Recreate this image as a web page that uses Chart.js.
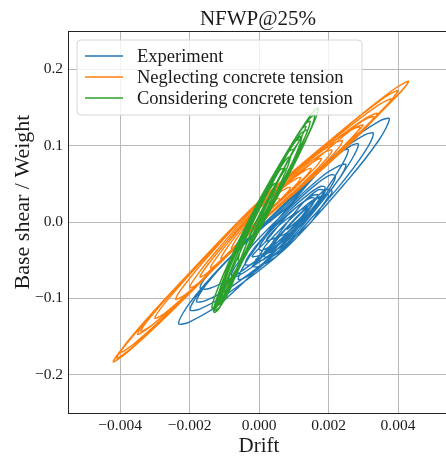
<!DOCTYPE html>
<html>
<head>
<meta charset="utf-8">
<script src="https://cdn.jsdelivr.net/npm/chart.js@4/dist/chart.umd.min.js"></script>
<style>
html,body{margin:0;padding:0;background:#fff;}
#c{display:block;}
</style>
</head>
<body>
<canvas id="c" width="446" height="459"></canvas>
<script>
const chartTitle = "NFWP@25%";
const xLabel = "Drift";
const yLabel = "Base shear / Weight";
const seriesNames = ["Experiment", "Neglecting concrete tension", "Considering concrete tension"];
const seriesColors = ["#1f77b4", "#ff7f0e", "#2ca02c"];
const xTicks = [-0.004, -0.002, 0.0, 0.002, 0.004];
const yTicks = [-0.2, -0.1, 0.0, 0.1, 0.2];

// Experiment
const expDrift = [
 0.0008,0.0012,0.0014,0.0012,0.0008,0.0004,0.0002,0.0004,
 0.0008,0.0014,0.0017,0.0015,0.0008,0.0002,-0.0002,0.0001,
 0.0008,0.00128,0.00152,0.0016,0.00152,0.00128,0.0008,0.00032,0.00008,0.0,0.00008,0.00032,
 0.0008,0.00146,0.00179,0.0019,0.00179,0.00146,0.0008,0.00008,-0.00028,-0.0004,-0.00028,0.00008,
 0.0008,0.00164,0.00206,0.0022,0.00206,0.00164,0.0008,-0.00016,-0.00064,-0.0008,-0.00064,-0.00016,
 0.0008,0.00186,0.00239,0.00257,0.00239,0.00186,0.0008,-0.0007,-0.00145,-0.0017,-0.00145,-0.0007,
 0.0008,0.0013,0.0016,0.0018,0.0016,0.0011,0.0006,0.0002,0.0,-0.0001,0.0001,0.0005,
 0.0008,0.00204,0.00265,0.00286,0.00265,0.00204,0.0008,-0.00076,-0.00154,-0.0018,-0.00154,-0.00076,
 0.0009,0.0015,0.0019,0.0021,0.0019,0.0014,0.0008,0.0003,0.0,-0.0002,0.0,0.0005,
 0.0008,0.00229,0.00304,0.00329,0.00304,0.00229,0.0008,-0.00087,-0.00171,-0.00199,-0.00171,-0.00087,
 0.0008,0.00257,0.00346,0.00375,0.00346,0.00257,0.0008,-0.00107,-0.00201,-0.00232,-0.00201,-0.00107,
 0.0008,0.00182,0.00233,0.0025,0.00233,0.00182,0.0008,-0.00004,-0.00046,-0.0006,-0.00046,-0.00004,
 0.001,0.0015,0.0018,0.002,0.0017,0.0012,0.0007,0.0003,0.0001,0.0003,0.0007,
 0.0008,0.0016,0.0019,0.0017,0.0012,0.0005,0.0002,0.0004,0.0009
];
const expShear = [
 -0.01,0.006,0.02,0.016,0.004,-0.012,-0.025,-0.022,
 -0.014,0.016,0.035,0.034,0.008,-0.025,-0.045,-0.042,
 -0.015,0.0072,0.0214,0.030,0.032,0.0264,0.009,-0.0126,-0.0265,-0.035,-0.0371,-0.0318,
 -0.018,0.0138,0.0336,0.045,0.0468,0.0378,0.012,-0.0222,-0.0432,-0.055,-0.0564,-0.0462,
 -0.021,0.0204,0.0458,0.060,0.0616,0.0492,0.015,-0.0288,-0.0554,-0.070,-0.0712,-0.0576,
 -0.025,0.0379,0.0751,0.0945,0.093,0.0731,0.019,-0.0352,-0.068,-0.086,-0.0874,-0.0704,
 -0.02,0.0,0.018,0.03,0.03,0.012,-0.01,-0.03,-0.045,-0.05,-0.05,-0.036,
 -0.028,0.040,0.0805,0.102,0.100,0.080,0.022,-0.0436,-0.0829,-0.104,-0.103,-0.0836,
 -0.025,0.005,0.025,0.04,0.042,0.02,-0.008,-0.035,-0.05,-0.058,-0.058,-0.045,
 -0.031,0.046,0.0918,0.116,0.114,0.0908,0.025,-0.0478,-0.0915,-0.115,-0.114,-0.0926,
 -0.033,0.0558,0.108,0.135,0.132,0.1038,0.027,-0.057,-0.1068,-0.133,-0.131,-0.105,
 -0.023,0.0278,0.0584,0.075,0.074,0.0598,0.017,-0.0302,-0.059,-0.075,-0.074,-0.0622,
 -0.02,0.0,0.02,0.035,0.032,0.012,-0.012,-0.032,-0.044,-0.046,-0.035,
 -0.02,0.02,0.04,0.042,0.022,-0.02,-0.04,-0.038,-0.01
];

// Neglecting concrete tension
const negDrift = [
 0,0.00036,0.00054,0.0006,0.00054,0.00036,0,-0.0003,-0.00045,-0.0005,-0.00045,-0.0003,
 0,0.00054,0.00081,0.0009,0.00081,0.00054,0,-0.00048,-0.00072,-0.0008,-0.00072,-0.00048,
 0,0.00072,0.00108,0.0012,0.00108,0.00072,0,-0.00066,-0.00099,-0.0011,-0.00099,-0.00066,
 0,0.0009,0.00135,0.0015,0.00135,0.0009,0,-0.00084,-0.00126,-0.0014,-0.00126,-0.00084,
 0,0.00108,0.00162,0.0018,0.00162,0.00108,0,-0.00102,-0.00153,-0.0017,-0.00153,-0.00102,
 0,0.00126,0.00189,0.0021,0.00189,0.00126,0,-0.0012,-0.0018,-0.0020,-0.0018,-0.0012,
 0,0.00144,0.00216,0.0024,0.00216,0.00144,0,-0.00144,-0.00216,-0.0024,-0.00216,-0.00144,
 0,0.00174,0.00261,0.0029,0.00261,0.00174,0,-0.0018,-0.0027,-0.0030,-0.0027,-0.0018,
 0,0.00204,0.00306,0.0034,0.00306,0.00204,0,-0.00204,-0.00306,-0.0034,-0.00306,-0.00204,
 0,0.00198,0.00297,0.0033,0.00297,0.00198,0,-0.0021,-0.00315,-0.0035,-0.00315,-0.0021,
 0,0.00228,0.00342,0.0038,0.00342,0.00228,0,-0.0024,-0.0036,-0.0040,-0.0036,-0.0024,
 0,0.00258,0.00387,0.0043,0.00387,0.00258,0,-0.00252,-0.00378,-0.0042,-0.00378,-0.00252,
 0,0.0024,0.0036,0.0040,0.0036,0.0024,0,-0.00246,-0.00369,-0.0041,-0.00369,-0.00246,
 0,0.0018,0.0028,0.0030,0.0027,0.0017,0
];
const negShear = [
 0.006,0.018,0.0256,0.030,0.0308,0.0276,0.018,-0.0024,-0.0142,-0.020,-0.0194,-0.012,
 0.005,0.0262,0.0386,0.045,0.0448,0.0374,0.019,-0.0106,-0.0272,-0.035,-0.0334,-0.0218,
 0.004,0.0332,0.0499,0.058,0.0569,0.046,0.020,-0.0176,-0.0385,-0.048,-0.0455,-0.0304,
 0.003,0.0396,0.0602,0.070,0.0682,0.054,0.021,-0.024,-0.0488,-0.060,-0.0568,-0.0384,
 0.002,0.0466,0.0715,0.083,0.0803,0.0626,0.022,-0.0304,-0.0592,-0.072,-0.068,-0.0464,
 -0.001,0.0508,0.0801,0.094,0.0915,0.0716,0.025,-0.0364,-0.0705,-0.086,-0.0819,-0.0572,
 -0.003,0.0564,0.090,0.106,0.1032,0.0804,0.027,-0.0438,-0.0831,-0.101,-0.0963,-0.0678,
 -0.003,0.0672,0.1062,0.124,0.1194,0.0912,0.027,-0.0588,-0.1056,-0.126,-0.1188,-0.0828,
 -0.003,0.078,0.1224,0.142,0.1356,0.102,0.027,-0.069,-0.1209,-0.143,-0.1341,-0.093,
 -0.003,0.0756,0.1188,0.138,0.132,0.0996,0.027,-0.0714,-0.1245,-0.147,-0.1377,-0.0954,
 -0.003,0.0894,0.1395,0.161,0.1527,0.1134,0.027,-0.0858,-0.1461,-0.171,-0.1593,-0.1098,
 -0.003,0.1032,0.1602,0.184,0.1734,0.1272,0.027,-0.093,-0.1569,-0.183,-0.1701,-0.117,
 -0.003,0.096,0.1494,0.172,0.1626,0.12,0.027,-0.09,-0.1524,-0.178,-0.1656,-0.114,
 -0.003,0.07,0.117,0.127,0.122,0.084,0.02
];

// Considering concrete tension
const conDrift = [
 -0.0001,0.00026,0.00044,0.0005,0.00044,0.00026,-0.0001,-0.0004,-0.00055,-0.0006,-0.00055,-0.0004,
 -0.0001,0.0005,0.0008,0.0009,0.0008,0.0005,-0.0001,-0.00058,-0.00082,-0.0009,-0.00082,-0.00058,
 -0.0001,0.0003,0.0006,0.00075,0.0006,0.0003,-0.0002,-0.0006,-0.0009,-0.00105,-0.0009,-0.0005,
 -0.0001,0.0007,0.0011,0.00123,0.0011,0.0007,-0.0001,-0.00076,-0.00109,-0.0012,-0.00109,-0.00076,
 -0.0001,0.0004,0.0008,0.001,0.0008,0.0004,-0.0002,-0.0007,-0.001,-0.0012,-0.001,-0.0006,
 -0.0001,0.00084,0.00131,0.00147,0.00131,0.00084,-0.0001,-0.00086,-0.00123,-0.00136,-0.00123,-0.00086,
 -0.0002,0.0005,0.001,0.00118,0.001,0.0005,-0.0002,-0.0008,-0.0011,-0.00125,-0.0011,-0.0008,
 -0.0001,0.00099,0.00153,0.00171,0.00153,0.00099,-0.0001,-0.00082,-0.00118,-0.0013,-0.00118,-0.00082,
 -0.0002,0.0006,0.0012,0.00135,0.0012,0.0006,-0.0002,-0.0009,-0.00122,-0.00132,-0.00122,-0.0009,
 -0.0001,0.0009,0.00145,0.0016,0.00145,0.0009,-0.0001,-0.0008,-0.00115,-0.00128,-0.00115,-0.0008,
 -0.0001,0.0007,0.0012,0.0014,0.0012,0.0007,-0.0001,-0.0007,-0.00105,-0.0012,-0.00105,-0.0007,-0.0001
];
const conShear = [
 -0.012,0.0204,0.0397,0.050,0.0503,0.0396,0.012,-0.0204,-0.0397,-0.050,-0.0503,-0.0396,
 -0.015,0.039,0.0699,0.085,0.0831,0.063,0.015,-0.036,-0.0654,-0.080,-0.0786,-0.060,
 -0.01,0.03,0.058,0.07,0.068,0.043,-0.003,-0.045,-0.075,-0.092,-0.088,-0.05,
 -0.018,0.0528,0.0929,0.112,0.1087,0.0816,0.018,-0.0486,-0.0866,-0.105,-0.1024,-0.0774,
 -0.008,0.04,0.078,0.095,0.09,0.055,0.0,-0.05,-0.085,-0.108,-0.098,-0.062,
 -0.020,0.0629,0.1096,0.1315,0.1272,0.0949,0.020,-0.0512,-0.092,-0.112,-0.1096,-0.0832,
 -0.012,0.05,0.095,0.108,0.104,0.064,0.005,-0.055,-0.092,-0.11,-0.104,-0.075,
 -0.020,0.0734,0.1253,0.149,0.1429,0.1054,0.020,-0.0548,-0.0974,-0.118,-0.115,-0.0868,
 -0.01,0.06,0.11,0.125,0.121,0.075,0.008,-0.06,-0.1,-0.116,-0.111,-0.08,
 -0.02,0.068,0.118,0.140,0.135,0.099,0.018,-0.052,-0.095,-0.115,-0.112,-0.083,
 -0.015,0.055,0.1,0.12,0.116,0.08,0.012,-0.05,-0.09,-0.108,-0.104,-0.072,-0.01
];

const FONT = "'Liberation Serif','Times New Roman',Times,serif";
const TXT = "#1a1a1a";
const toPts = (xs, ys) => xs.map((x, i) => ({x: x, y: ys[i]}));
const fmt = (v, d) => (v < -1e-12 ? "\u2212" : "") + Math.abs(v).toFixed(d);

const decor = {
  id: "decor",
  afterDraw(chart) {
    const ctx = chart.ctx, a = chart.chartArea;
    ctx.save();
    ctx.strokeStyle = "#222"; ctx.lineWidth = 1;
    ctx.beginPath(); ctx.moveTo(a.left, a.top + 0.5); ctx.lineTo(a.right, a.top + 0.5); ctx.stroke();
    ctx.fillStyle = TXT;
    ctx.textAlign = "center"; ctx.textBaseline = "alphabetic";
    ctx.font = "21px " + FONT;
    ctx.fillText(chartTitle, 258, 25);
    ctx.fillText(xLabel, 259, 452);
    ctx.save();
    ctx.translate(29, 202); ctx.rotate(-Math.PI / 2);
    ctx.font = "22px " + FONT;
    ctx.fillText(yLabel, 0, 0);
    ctx.restore();
    const lx = 77, ly = 40, lw = 285, lh = 75, r = 4;
    ctx.beginPath();
    ctx.moveTo(lx + r, ly); ctx.lineTo(lx + lw - r, ly); ctx.arcTo(lx + lw, ly, lx + lw, ly + r, r);
    ctx.lineTo(lx + lw, ly + lh - r); ctx.arcTo(lx + lw, ly + lh, lx + lw - r, ly + lh, r);
    ctx.lineTo(lx + r, ly + lh); ctx.arcTo(lx, ly + lh, lx, ly + lh - r, r);
    ctx.lineTo(lx, ly + r); ctx.arcTo(lx, ly, lx + r, ly, r); ctx.closePath();
    ctx.fillStyle = "rgba(255,255,255,0.8)"; ctx.fill();
    ctx.strokeStyle = "#d6d6d6"; ctx.lineWidth = 1; ctx.stroke();
    ctx.font = "18.5px " + FONT; ctx.textAlign = "left"; ctx.textBaseline = "middle";
    const rows = [56, 77, 98];
    seriesNames.forEach((n, i) => {
      ctx.strokeStyle = seriesColors[i]; ctx.lineWidth = 1.5;
      ctx.beginPath(); ctx.moveTo(85, rows[i]); ctx.lineTo(123, rows[i]); ctx.stroke();
      ctx.fillStyle = TXT; ctx.fillText(n, 137, rows[i] + 1);
    });
    ctx.restore();
  }
};

const ds = (i, xs, ys, ord) => ({
  label: seriesNames[i], data: toPts(xs, ys), showLine: true, pointRadius: 0,
  borderColor: seriesColors[i], backgroundColor: seriesColors[i], borderWidth: 1.4,
  tension: 0.3, fill: false, order: ord
});

new Chart(document.getElementById("c"), {
  type: "scatter",
  data: {
    datasets: [
      ds(0, expDrift, expShear, 3),
      ds(1, negDrift, negShear, 2),
      ds(2, conDrift, conShear, 1)
    ]
  },
  options: {
    responsive: false, animation: false, devicePixelRatio: 1,
    layout: {padding: {top: 31, right: 0, left: 0, bottom: 0}},
    plugins: {legend: {display: false}, title: {display: false}, tooltip: {enabled: false}},
    scales: {
      x: {
        type: "linear", min: -0.0055, max: 0.00538,
        afterBuildTicks: s => { s.ticks = xTicks.map(v => ({value: v})); },
        afterFit: s => { s.height = 46; },
        ticks: {callback: v => fmt(v, 3), font: {family: FONT, size: 15.5}, color: TXT, padding: 4, maxRotation: 0, autoSkip: false},
        grid: {color: "#b8b8b8", lineWidth: 1, drawTicks: false},
        border: {display: true, color: "#222", width: 1}
      },
      y: {
        type: "linear", min: -0.25, max: 0.25,
        afterBuildTicks: s => { s.ticks = yTicks.map(v => ({value: v})); },
        afterFit: s => { s.width = 68; },
        ticks: {callback: v => fmt(v, 1), font: {family: FONT, size: 15.5}, color: TXT, padding: 5, autoSkip: false},
        grid: {color: "#b8b8b8", lineWidth: 1, drawTicks: false},
        border: {display: true, color: "#222", width: 1}
      }
    }
  },
  plugins: [decor]
});
</script>
</body>
</html>
